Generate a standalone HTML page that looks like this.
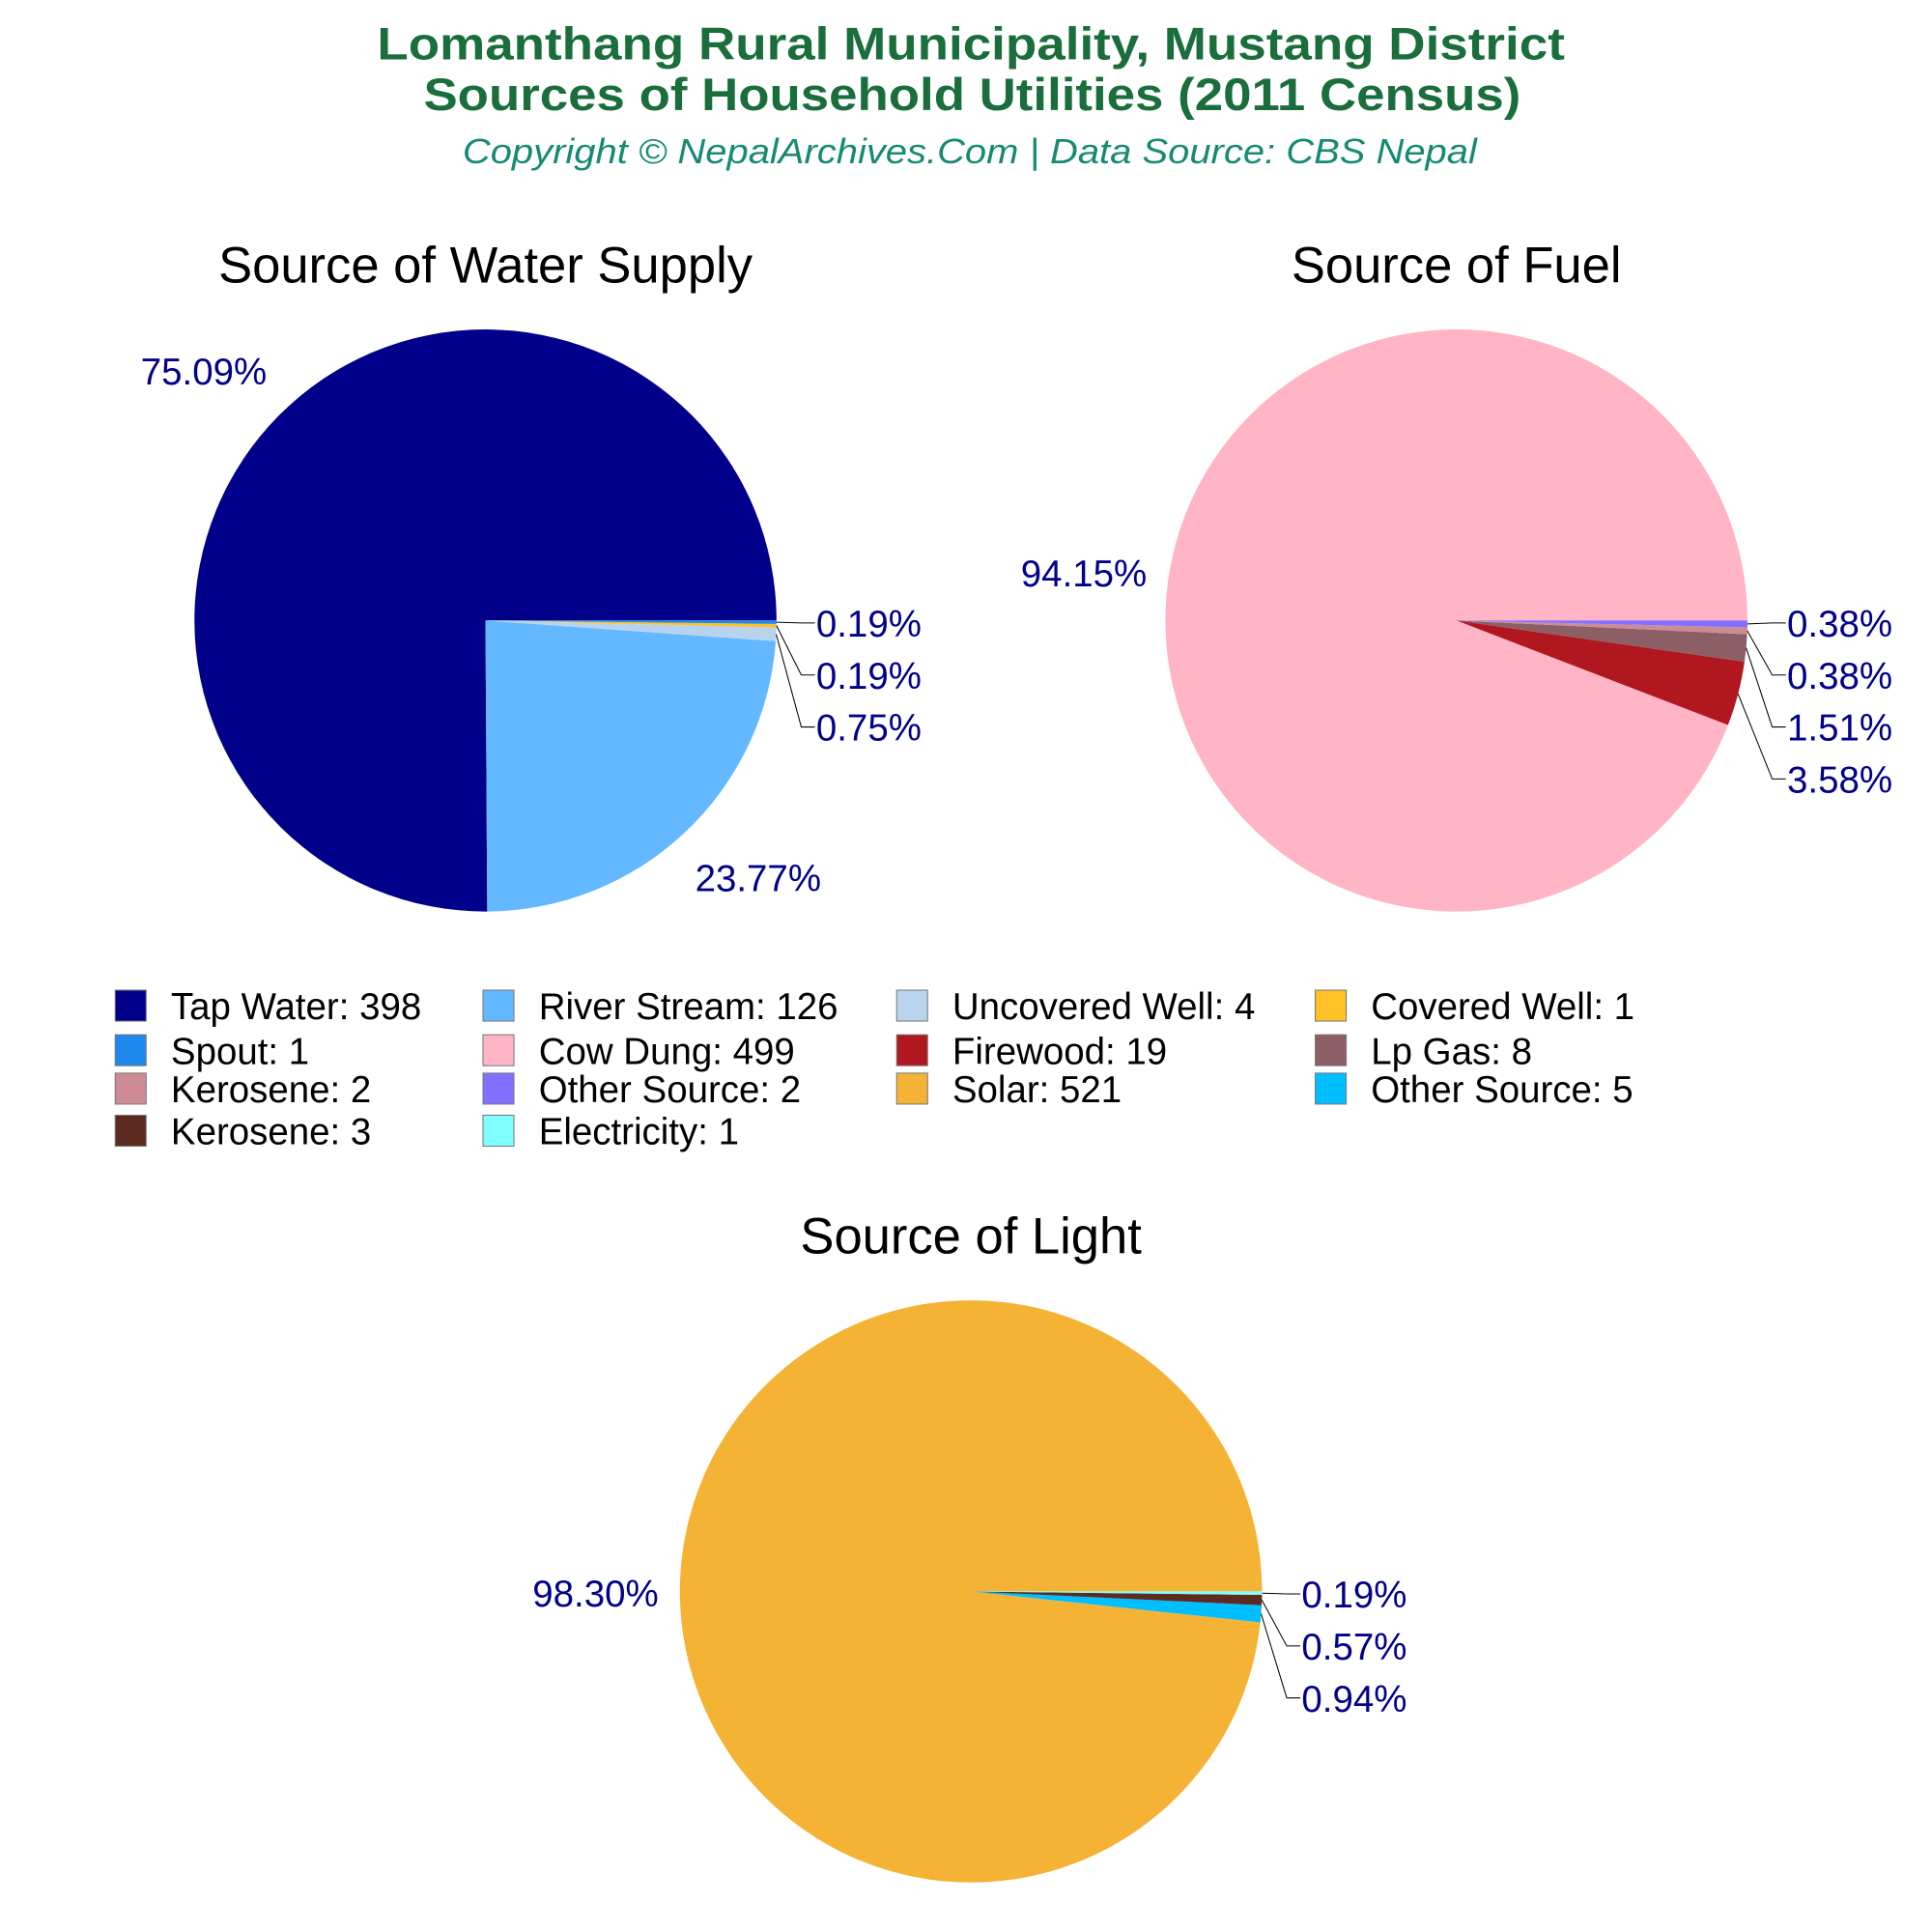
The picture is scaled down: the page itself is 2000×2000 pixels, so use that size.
<!DOCTYPE html>
<html><head><meta charset="utf-8"><style>
html,body{margin:0;padding:0;background:#fff;}
svg{display:block;font-family:"Liberation Sans",Arial,sans-serif;}
</style></head><body>
<svg id="chart" width="2000" height="2000" viewBox="0 0 1560 1560" xmlns="http://www.w3.org/2000/svg">
<rect width="1560" height="1560" fill="#fff"/>
<text x="784" y="48" text-anchor="middle" font-size="37" font-weight="bold" fill="#1a6e3c" textLength="959" lengthAdjust="spacingAndGlyphs">Lomanthang Rural Municipality, Mustang District</text>
<text x="785" y="89" text-anchor="middle" font-size="37" font-weight="bold" fill="#1a6e3c" textLength="886" lengthAdjust="spacingAndGlyphs">Sources of Household Utilities (2011 Census)</text>
<text x="783" y="132" text-anchor="middle" font-size="28" font-style="italic" fill="#178a73" textLength="819" lengthAdjust="spacingAndGlyphs">Copyright © NepalArchives.Com | Data Source: CBS Nepal</text>
<g id="pies"></g>
<g id="legend"></g>
</svg>
<script>
const waterLabels = ["Tap Water","River Stream","Uncovered Well","Covered Well","Spout"];
const waterValues = [398,126,4,1,1];
const waterColors = ["#00008B","#63B8FF","#B9D3EE","#FFC125","#1E88EE"];
const fuelLabels = ["Cow Dung","Firewood","Lp Gas","Kerosene","Other Source"];
const fuelValues = [499,19,8,2,2];
const fuelColors = ["#FFB5C5","#B0171F","#8B5F65","#CD8C95","#8470FF"];
const lightLabels = ["Solar","Other Source","Kerosene","Electricity"];
const lightValues = [521,5,3,1];
const lightColors = ["#F5B335","#00BFFF","#5C2A1E","#7FFFFF"];
const legendOrder = [
 ["Tap Water",398,"#00008B"],["River Stream",126,"#63B8FF"],["Uncovered Well",4,"#B9D3EE"],["Covered Well",1,"#FFC125"],
 ["Spout",1,"#1E88EE"],["Cow Dung",499,"#FFB5C5"],["Firewood",19,"#B0171F"],["Lp Gas",8,"#8B5F65"],
 ["Kerosene",2,"#CD8C95"],["Other Source",2,"#8470FF"],["Solar",521,"#F5B335"],["Other Source",5,"#00BFFF"],
 ["Kerosene",3,"#5C2A1E"],["Electricity",1,"#7FFFFF"]];

const NS="http://www.w3.org/2000/svg";
function mk(tag,attrs,parent){const e=document.createElementNS(NS,tag);for(const k in attrs)e.setAttribute(k,attrs[k]);parent.appendChild(e);return e;}
const pies=document.getElementById('pies');
const R=235;
function pt(cx,cy,r,a){return [cx+r*Math.cos(a),cy-r*Math.sin(a)];}
function drawPie(title,labels,values,colors,cx,cy,key){
  const g=mk('g',{},pies);
  
  
  const t=mk('text',{x:cx,y:cy-273,'text-anchor':'middle','font-size':41,fill:'#000'},g);
  
  
  t.textContent=title;
  const total=values.reduce((a,b)=>a+b,0);
  let a0=0;const small=[];
  values.forEach((v,i)=>{
    const f=v/total;const a1=a0+f*2*Math.PI;
    const p0=pt(cx,cy,R,a0),p1=pt(cx,cy,R,a1);
    const large=(a1-a0)>Math.PI?1:0;
    const p=mk('path',{d:`M${cx},${cy} L${p0[0]},${p0[1]} A${R},${R} 0 ${large} 0 ${p1[0]},${p1[1]} Z`,fill:colors[i]},g);
    
    
    const mid=(a0+a1)/2;const pct=(f*100).toFixed(2)+'%';
    if(f>0.1){
      const lp=pt(cx,cy,R*1.29,mid+0.06);
      const lt=mk('text',{x:lp[0],y:lp[1]+10,'text-anchor':'middle','font-size':30,fill:'#00008B'},g);
      
      
      lt.textContent=pct;
    } else small.push({mid,pct,i});
    a0=a1;
  });
  small.sort((a,b)=>b.mid-a.mid);
  small.forEach((s,j)=>{
    const e=pt(cx,cy,R,s.mid);
    const ly=cy+2+42*j;
    const l=mk('polyline',{points:`${e[0]},${e[1]} ${cx+R+20},${ly} ${cx+R+31},${ly}`,fill:'none',stroke:'#000','stroke-width':0.8},g);
    
    
    const lt=mk('text',{x:cx+R+32,y:ly+11,'font-size':30,fill:'#00008B'},g);
    
    
    lt.textContent=s.pct;
  });
}
drawPie("Source of Water Supply",waterLabels,waterValues,waterColors,392,501,'water');
drawPie("Source of Fuel",fuelLabels,fuelValues,fuelColors,1176,501,'fuel');
drawPie("Source of Light",lightLabels,lightValues,lightColors,784,1285,'light');

const lg=document.getElementById('legend');
const colX=[93,390,724,1062];const rowY=[812,848,879,913];
legendOrder.forEach((d,i)=>{
  const c=i%4,r=Math.floor(i/4);
  const g=mk('g',{},lg);
  
  
  mk('rect',{x:colX[c],y:rowY[r]-12.5,width:25,height:25,fill:d[2],stroke:'#777','stroke-width':0.8},g);
  const t=mk('text',{x:colX[c]+45,y:rowY[r]+11,'font-size':30,fill:'#000'},g);
  t.textContent=d[0]+': '+d[1];
});
</script>
</body></html>
